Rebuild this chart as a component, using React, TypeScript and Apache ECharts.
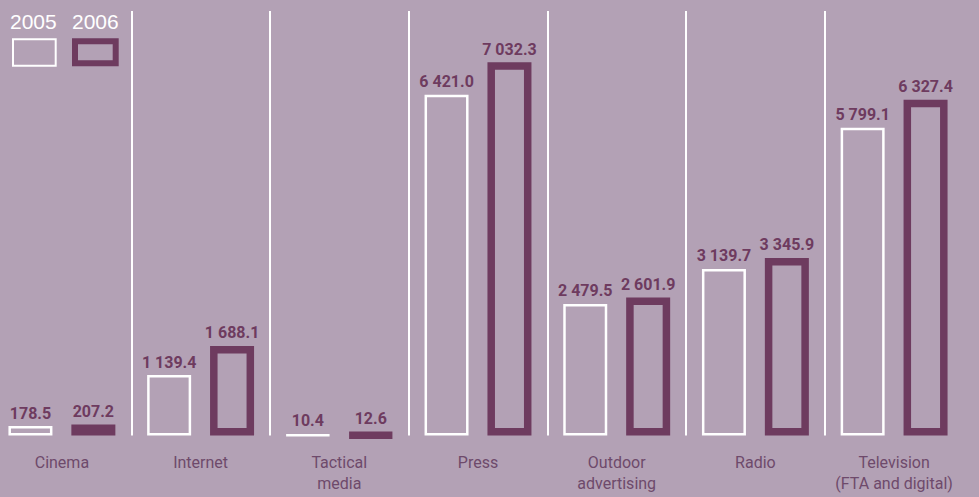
import React, { useEffect, useRef } from "react";
import * as echarts from "echarts";

const categories = [
  "Cinema",
  "Internet",
  "Tactical\nmedia",
  "Press",
  "Outdoor\nadvertising",
  "Radio",
  "Television\n(FTA and digital)",
];
const values2005 = [178.5, 1139.4, 10.4, 6421.0, 2479.5, 3139.7, 5799.1];
const values2006 = [207.2, 1688.1, 12.6, 7032.3, 2601.9, 3345.9, 6327.4];
const legendNames = ["2005", "2006"];

const BG = "#b3a1b5";
const DARK = "#6e3b5f";
const CAT = "#6e4a6b";
const LABEL_FONT = "Roboto, 'Liberation Sans', sans-serif";
const REG = "'Liberation Sans', Arial, Helvetica, sans-serif";
const SHIFT = 8; // container is shifted left by this many px

function fmt(v: number): string {
  const s = v.toFixed(1);
  const [i, d] = s.split(".");
  return i.replace(/\B(?=(\d{3})+(?!\d))/g, " ") + "." + d;
}

export default function App() {
  const ref = useRef<HTMLDivElement>(null);
  useEffect(() => {
    document.body.style.margin = "0";
    document.body.style.overflow = "hidden";
    if (!ref.current) return;
    const chart = echarts.init(ref.current, null, { renderer: "svg" });
    const valueLabel = {
      show: true,
      position: "top" as const,
      distance: 5,
      color: DARK,
      fontFamily: LABEL_FONT,
      fontWeight: "bold" as const,
      fontSize: 16,
      formatter: (p: any) => fmt(p.value as number),
    };
    chart.setOption({
      animation: false,
      backgroundColor: BG,
      grid: { left: 0.55, right: 15.55, top: 11, bottom: 61.5, containLabel: false },
      xAxis: [
        {
          type: "category",
          data: categories,
          axisLine: { show: false },
          axisTick: { show: false },
          splitLine: { show: false },
          axisLabel: {
            margin: 16,
            color: CAT,
            fontFamily: LABEL_FONT,
            fontSize: 16,
            lineHeight: 21,
            interval: 0,
          },
        },
        {
          type: "value",
          min: 0,
          max: 7,
          interval: 1,
          position: "top",
          axisLine: { show: false },
          axisTick: { show: false },
          axisLabel: { show: false },
          splitLine: {
            show: true,
            showMinLine: false,
            showMaxLine: false,
            lineStyle: { color: "#ffffff", width: 2 },
          },
        },
      ],
      yAxis: {
        type: "value",
        min: 0,
        max: 8000,
        show: false,
        splitLine: { show: false },
      },
      series: [
        {
          name: legendNames[0],
          type: "bar",
          xAxisIndex: 0,
          data: values2005,
          barWidth: 44,
          barGap: "43%",
          itemStyle: { color: "rgba(0,0,0,0)", borderColor: "#ffffff", borderWidth: 2.5 },
          label: valueLabel,
        },
        {
          name: legendNames[1],
          type: "bar",
          xAxisIndex: 0,
          data: values2006,
          barWidth: 44,
          itemStyle: { color: "rgba(0,0,0,0)", borderColor: DARK, borderWidth: 7.5 },
          label: valueLabel,
        },
      ],
      graphic: [
        {
          type: "text",
          left: 10 + SHIFT,
          top: 11,
          style: { text: legendNames[0], fill: "#ffffff", font: `21px ${REG}` },
        },
        {
          type: "text",
          left: 72 + SHIFT,
          top: 11,
          style: { text: legendNames[1], fill: "#ffffff", font: `21px ${REG}` },
        },
        {
          type: "rect",
          shape: { x: 13 + SHIFT, y: 39.3, width: 42.7, height: 26.4 },
          style: { fill: "none", stroke: "#ffffff", lineWidth: 2 },
        },
        {
          type: "rect",
          shape: { x: 75 + SHIFT, y: 41.3, width: 40.7, height: 22 },
          style: { fill: "none", stroke: DARK, lineWidth: 6 },
        },
      ],
    });
    return () => chart.dispose();
  }, []);
  return (
    <div
      ref={ref}
      style={{ position: "fixed", left: -SHIFT, top: 0, width: 979 + SHIFT, height: 497 }}
    />
  );
}
